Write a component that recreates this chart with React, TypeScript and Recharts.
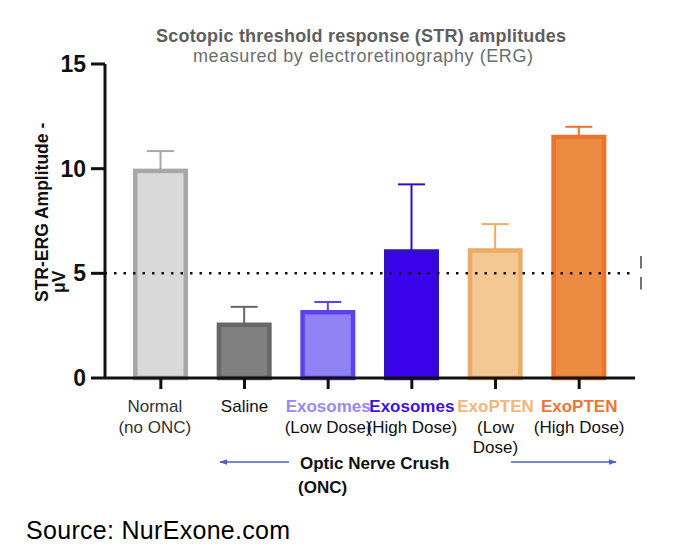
import React from 'react';
import { BarChart, Bar, XAxis, YAxis, ReferenceLine } from 'recharts';

// STR-ERG amplitude (µV) per treatment group
const categories = [
  'Normal (no ONC)',
  'Saline',
  'Exosomes (Low Dose)',
  'Exosomes (High Dose)',
  'ExoPTEN (Low Dose)',
  'ExoPTEN (High Dose)',
];
const amplitudes = [10.0, 2.65, 3.25, 6.15, 6.2, 11.62];
const sem = [0.84, 0.75, 0.38, 3.1, 1.15, 0.38];
const yTicks = [0, 5, 10, 15];
const thresholdLevel = 5;

// two-part tick labels: coloured group name + plain dose line(s)
const labelHeads = ['Normal', 'Saline', 'Exosomes', 'Exosomes', 'ExoPTEN', 'ExoPTEN'];
const labelTails = [['(no ONC)'], [], ['(Low Dose)'], ['(High Dose)'], ['(Low', 'Dose)'], ['(High Dose)']];

const headColors = ['#333333', '#111111', '#9a88f3', '#3b14e2', '#f2b676', '#ec7632'];
const headBold = [false, false, true, true, true, true];
const fills = ['#d9d9d9', '#808080', '#9182f4', '#3b02ec', '#f3c892', '#ec8b42'];
const strokes = ['#a7a7a7', '#676767', '#5e40ef', '#3010c4', '#eeab63', '#e9732f'];

const data = categories.map((name, i) => ({ name, amp: amplitudes[i], sem: sem[i] }));

const FONT = '"Liberation Sans", Arial, sans-serif';
const BORDER = 4.5;

function FramedBar(props: any) {
  const { x, y, width, height, index, payload } = props;
  if (!height) return null;
  const unit = height / payload.amp;
  const top = y - payload.sem * unit;
  const cx = x + width / 2;
  const c = strokes[index];
  return (
    <g>
      <line x1={cx} x2={cx} y1={y + 2} y2={top} stroke={c} strokeWidth={2} />
      <line x1={cx - 13.5} x2={cx + 13.5} y1={top} y2={top} stroke={c} strokeWidth={2} />
      <rect
        x={x + BORDER / 2}
        y={y + BORDER / 2}
        width={width - BORDER}
        height={height - BORDER / 2}
        fill={fills[index]}
        stroke={c}
        strokeWidth={BORDER}
      />
    </g>
  );
}

function GroupTick(props: any) {
  const { x, y, payload } = props;
  const i = categories.indexOf(payload.value);
  if (i < 0) return null;
  const first = y + 22;
  const cx = i === 0 ? x - 6 : x;
  return (
    <g fontFamily={FONT} fontSize={17} textAnchor="middle">
      <text x={cx} y={first} fill={headColors[i]} fontWeight={headBold[i] ? 700 : 400}>
        {labelHeads[i]}
      </text>
      {labelTails[i].map((t, k) => (
        <text key={k} x={cx} y={first + 20.5 * (k + 1)} fill={i === 0 ? '#333333' : '#111111'}>
          {t}
        </text>
      ))}
    </g>
  );
}

export default function App() {
  return (
    <div style={{ position: 'absolute', left: 0, top: 0, width: 680, height: 554, background: '#fff' }}>
      <BarChart
        width={680}
        height={554}
        data={data}
        margin={{ top: 64, right: 45, bottom: 96, left: 45 }}
        barSize={55}
      >
        <ReferenceLine
          y={thresholdLevel}
          stroke="#111"
          strokeWidth={2.5}
          strokeDasharray="2.5 7"
          strokeDashoffset={-9}
        />
        <XAxis
          dataKey="name"
          interval={0}
          height={80}
          padding={{ left: 14, right: 14 }}
          tickSize={11}
          tickMargin={1}
          axisLine={{ stroke: '#111', strokeWidth: 3 }}
          tickLine={{ stroke: '#111', strokeWidth: 3 }}
          tick={<GroupTick />}
        />
        <YAxis
          width={60}
          domain={[0, 15]}
          ticks={yTicks}
          interval={0}
          tickSize={14}
          tickMargin={5}
          axisLine={{ stroke: '#111', strokeWidth: 3 }}
          tickLine={{ stroke: '#111', strokeWidth: 3 }}
          tick={{ fontFamily: FONT, fontSize: 23, fontWeight: 700, fill: '#111' }}
        />
        <Bar dataKey="amp" shape={<FramedBar />} isAnimationActive={false} />
      </BarChart>

      <svg
        width={680}
        height={554}
        style={{ position: 'absolute', left: 0, top: 0, pointerEvents: 'none' }}
      >
        <defs>
          <marker id="ah" viewBox="0 0 10 10" refX="9" refY="5" markerWidth="6" markerHeight="6" orient="auto-start-reverse">
            <path d="M0,1.5 L10,5 L0,8.5 z" fill="#4d5fc2" />
          </marker>
        </defs>
        <text x={156} y={41.5} fontFamily={FONT} fontSize={18} fontWeight={700} fill="#5e5e5e"
          textLength={410} lengthAdjust="spacing">
          Scotopic threshold response (STR) amplitudes
        </text>
        <text x={193} y={62} fontFamily={FONT} fontSize={18} fill="#6d6d6d"
          textLength={340} lengthAdjust="spacing">
          measured by electroretinography (ERG)
        </text>
        <g fontFamily={FONT} fontSize={17.5} fontWeight={700} fill="#111">
          <text transform="translate(47.5,302) rotate(-90)">STR-ERG Amplitude -</text>
          <text transform="translate(65,293) rotate(-90)">μV</text>
        </g>
        <g fontFamily={FONT} fontSize={17} fontWeight={700} fill="#111">
          <text x={300} y={469}>Optic Nerve Crush</text>
          <text x={298} y={493}>(ONC)</text>
        </g>
        <line x1={289} y1={462} x2={220} y2={462} stroke="#4d5fc2" strokeWidth={1.3} markerEnd="url(#ah)" />
        <line x1={511} y1={462} x2={616} y2={462} stroke="#4d5fc2" strokeWidth={1.3} markerEnd="url(#ah)" />
        <line x1={641} y1={256} x2={641} y2={290} stroke="#444" strokeWidth={1.5} strokeDasharray="12.5 8.5" />
        <text x={26} y={539} fontFamily={FONT} fontSize={25} letterSpacing={0.3} fill="#000">
          Source: NurExone.com
        </text>
      </svg>
    </div>
  );
}
